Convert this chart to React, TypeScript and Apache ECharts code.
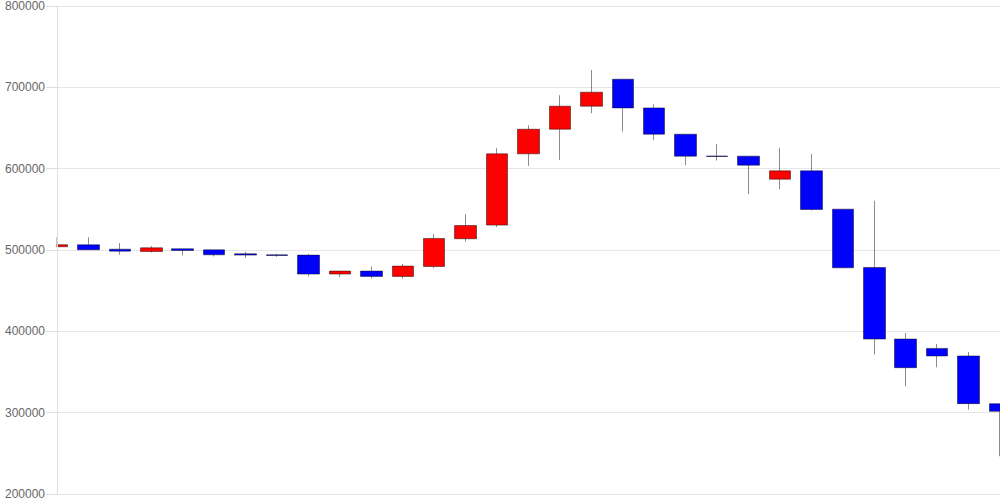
import React, { useEffect, useRef } from "react";
import * as echarts from "echarts";

const categories = [
  "1", "2", "3", "4", "5", "6", "7", "8", "9", "10",
  "11", "12", "13", "14", "15", "16", "17", "18", "19", "20",
  "21", "22", "23", "24", "25", "26", "27", "28", "29", "30", "31",
];

const opens = [
  504000, 506400, 501000, 498200, 501500, 500200, 495300, 494100, 493700, 470400,
  474100, 467500, 479700, 513800, 530600, 618200, 648500, 676800, 710000, 674700,
  642400, 615600, 615400, 587100, 597300, 550200, 478500, 390500, 379000, 369700, 311100,
];
const closes = [
  506500, 500300, 498600, 502700, 499400, 494100, 493700, 493200, 470400, 474100,
  467500, 480200, 514200, 530100, 618200, 648500, 676800, 694000, 674700, 642400,
  615400, 615000, 604300, 597300, 549800, 478100, 390500, 355300, 369700, 311100, 301600,
];
const lows = [
  503500, 500000, 494100, 496900, 493300, 492000, 490400, 491600, 467500, 466700,
  465000, 465000, 477800, 510400, 528100, 603400, 610800, 668200, 645600, 635400,
  604300, 610000, 568700, 574800, 548500, 477700, 371600, 332300, 355700, 303700, 246400,
];
const highs = [
  516000, 515700, 508500, 504800, 501500, 500200, 497800, 495300, 495300, 474500,
  479700, 482700, 519500, 544100, 625200, 653400, 690300, 721400, 710000, 679200,
  642400, 630500, 615400, 625600, 618200, 550200, 560400, 397900, 384400, 374500, 311100,
];

const yTicks = [200000, 300000, 400000, 500000, 600000, 700000, 800000];

export default function App() {
  const ref = useRef<HTMLDivElement>(null);
  useEffect(() => {
    if (!ref.current) return;
    const chart = echarts.init(ref.current, null, { renderer: "svg" });
    const data = categories.map((_, i) => [opens[i], closes[i], lows[i], highs[i]]);
    const yMin = yTicks[0];
    const yMax = yTicks[yTicks.length - 1];
    chart.setOption({
      animation: false,
      grid: { left: 57, right: 0, top: 6, bottom: 6, containLabel: false },
      graphic: [
        {
          type: "rect",
          z: 5,
          silent: true,
          shape: { x: 0, y: 0, width: 56.5, height: 500 },
          style: { fill: "#ffffff" },
        },
      ],
      xAxis: {
        type: "category",
        data: categories,
        boundaryGap: false,
        axisLine: { show: false },
        axisTick: { show: false },
        axisLabel: { show: false },
        splitLine: { show: false },
      },
      yAxis: [
        {
          type: "value",
          position: "left",
          min: yMin,
          max: yMax,
          interval: 100000,
          axisLine: { show: false },
          axisTick: { show: false },
          axisLabel: { show: false },
          splitLine: { show: true, lineStyle: { color: "#e6e6e6" } },
        },
        {
          type: "value",
          position: "left",
          offset: 0,
          z: 10,
          min: yMin,
          max: yMax,
          interval: 100000,
          axisLine: { show: true, lineStyle: { color: "#dddddd" } },
          axisTick: { show: true, length: 11, lineStyle: { color: "#dddddd" } },
          axisLabel: {
            margin: 12,
            color: "#666666",
            fontSize: 12,
            fontFamily: "Liberation Sans, Arial, sans-serif",
            formatter: (v: number) => String(v),
          },
          splitLine: { show: false },
        },
      ],
      series: [
        {
          type: "candlestick",
          yAxisIndex: 0,
          data,
          barWidth: 22,
          clip: true,
          itemStyle: {
            color: "#ff0000",
            color0: "#0000ff",
            borderColor: "rgba(0,0,0,0.45)",
            borderColor0: "rgba(0,0,0,0.45)",
            borderWidth: 1,
          },
        },
      ],
    });
    return () => chart.dispose();
  }, []);
  return (
    <div
      ref={ref}
      style={{ position: "absolute", left: 0, top: 0, width: 1000, height: 500 }}
    />
  );
}
